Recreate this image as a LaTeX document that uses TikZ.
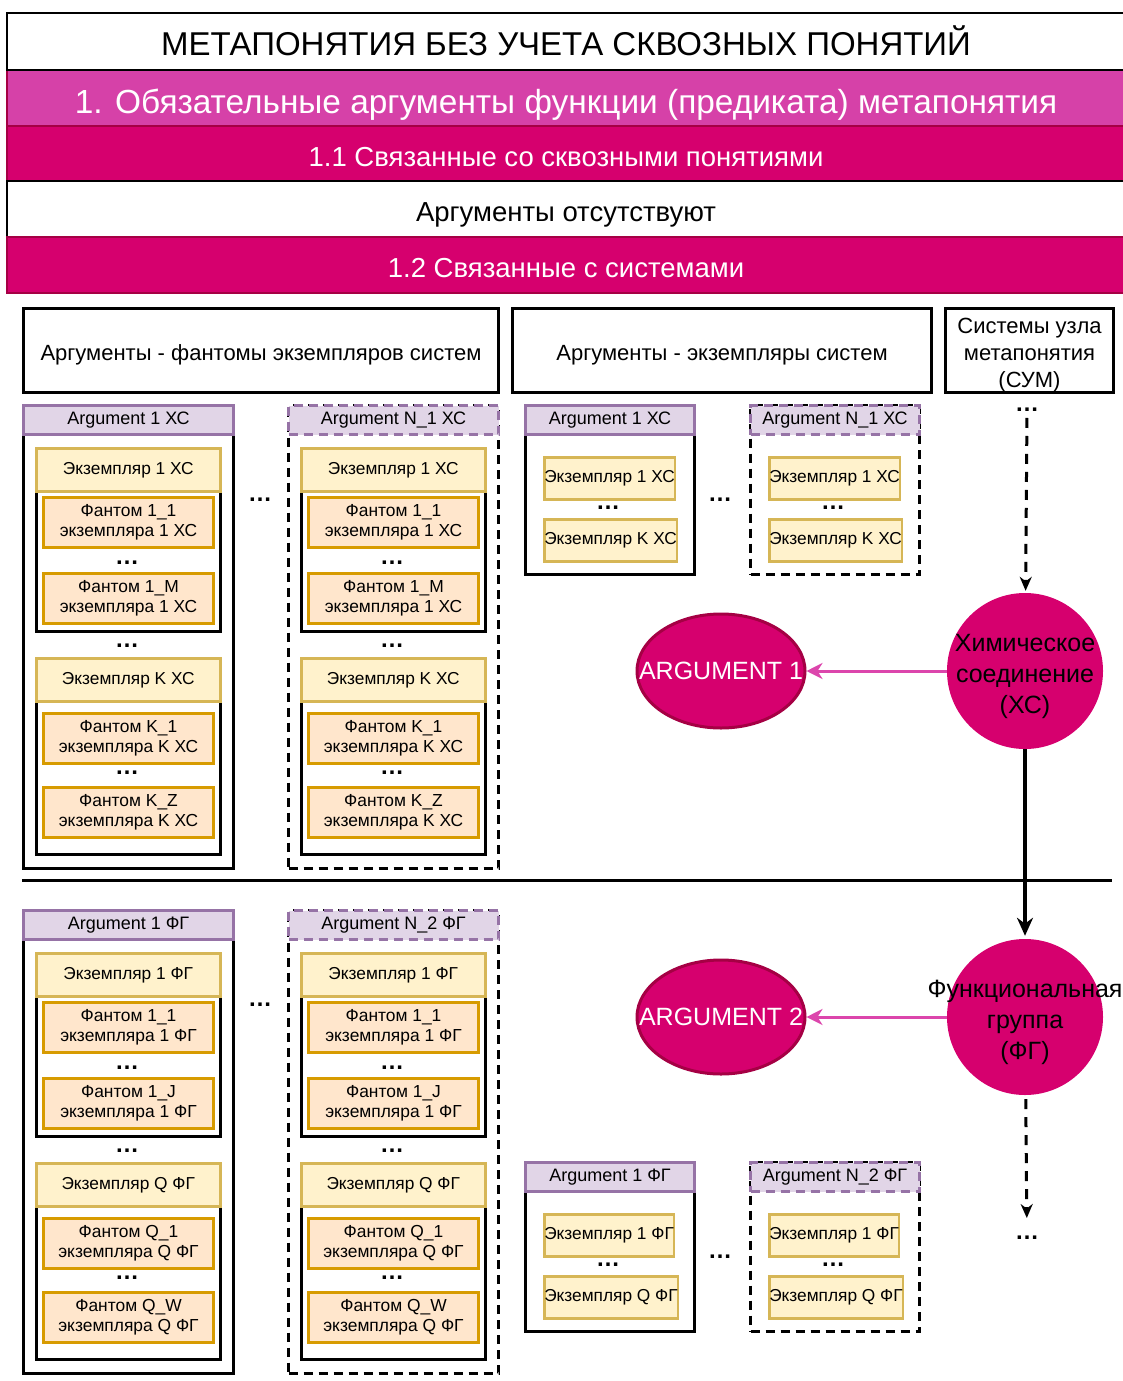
\documentclass[tikz,border=0pt]{standalone}
\usepackage{fontspec}
\setmainfont{Liberation Sans}
\usetikzlibrary{shapes.geometric, arrows.meta, positioning}

\definecolor{sysmag}{RGB}{214,0,110}
\definecolor{magedge}{RGB}{165,0,68}
\definecolor{bandpink}{RGB}{214,65,168}
\definecolor{arrowpink}{RGB}{220,70,172}
\definecolor{argfill}{RGB}{225,213,231}
\definecolor{argedge}{RGB}{150,115,166}
\definecolor{instfill}{RGB}{255,242,204}
\definecolor{instedge}{RGB}{214,182,86}
\definecolor{phfill}{RGB}{255,230,204}
\definecolor{phedge}{RGB}{215,155,0}

% text of fixed position, wider than its shape
\newcommand{\widelabel}[2][-12pt]{\makebox[0pt]{\raisebox{#1}[0pt][0pt]{\begin{tabular}{@{}c@{}}#2\end{tabular}}}}

\begin{document}
\begin{tikzpicture}[x=1pt, y=-1pt,
    band/.style={rectangle, draw=magedge, line width=2.5pt, fill=sysmag, text=white, minimum width=1118, minimum height=56, inner sep=0, outer sep=0, text height=25.8pt, text depth=0pt, font=\fontsize{27.5}{32}\selectfont},
    whitebar/.style={band, draw=black, fill=white, text=black},
    colhead/.style={rectangle, draw, line width=3pt, minimum height=84, anchor=north west, inner sep=0, font=\fontsize{22}{27}\selectfont},
    argbox/.style={rectangle, draw, line width=3pt, fill=white, anchor=north west},
    arghead/.style={rectangle, draw=argedge, line width=3pt, fill=argfill, minimum height=29, anchor=north west, inner sep=0, font=\fontsize{18}{20}\selectfont},
    instbox/.style={rectangle, draw, line width=2.5pt, minimum width=184, anchor=north west},
    insthead/.style={rectangle, draw=instedge, line width=2.5pt, fill=instfill, minimum width=184, minimum height=43, anchor=north west, inner sep=0, font=\fontsize{17.3}{20}\selectfont},
    phbox/.style={rectangle, draw=phedge, line width=3pt, fill=phfill, minimum width=170, minimum height=50, anchor=north west, align=center, inner sep=0, font=\fontsize{17.4}{20}\selectfont},
    sysinst/.style={insthead, minimum width=129, minimum height=42},
    dots/.style={inner sep=0, font=\bfseries\fontsize{24}{24}\selectfont},
    argell/.style={ellipse, draw=magedge, line width=3pt, fill=sysmag, text=white, minimum width=168, minimum height=114, inner sep=0, font=\fontsize{25}{30}\selectfont},
    sysnode/.style={circle, fill=sysmag, minimum size=156, inner sep=0, font=\fontsize{25}{31}\selectfont},
    linkarrow/.style={-{Stealth[length=16pt, width=16pt, inset=5pt]}, line width=3pt, draw=arrowpink},
    flowarrow/.style={-{Stealth[length=18pt, width=16pt]}, line width=4pt},
    dasharrow/.style={-{Stealth[length=14pt, width=12pt]}, line width=3pt, dash pattern=on 10pt off 8pt},
    solidline/.style={solid},
    dashline/.style={dash pattern=on 9pt off 6pt}
]
\useasboundingbox (0,0) rectangle (1123,1381);

% top bands
\node[band, fill=bandpink, text height=30pt, font=\fontsize{33.4}{38}\selectfont] (oblig) at (566,98) {1. Обязательные аргументы функции (предиката) метапонятия};
\node[band, below=0pt of oblig, minimum height=55] (cross) {1.1 Связанные со сквозными понятиями};
\node[whitebar, above=0pt of oblig, minimum height=57, text height=28.8pt, font=\fontsize{33}{38}\selectfont] (title) {МЕТАПОНЯТИЯ БЕЗ УЧЕТА СКВОЗНЫХ ПОНЯТИЙ};
\node[whitebar, below=0pt of cross] (absent) {Аргументы отсутствуют};
\node[band, below=0pt of absent] (systems) {1.2 Связанные с системами};

% column headers
\node[colhead, minimum width=475] (phhead) at (22,307) {\widelabel[-10pt]{Аргументы - фантомы экземпляров систем}};
\node[colhead, minimum width=419] (exhead) at (511,307) {\widelabel[-10pt]{Аргументы - экземпляры систем}};
\node[colhead, minimum width=168] (cymhead) at (944,307) {\widelabel[-10pt]{Системы узла\\метапонятия\\(СУМ)}};

\draw[line width=3pt] (22,880) -- (1112,880);

% phantom columns
\foreach \sect/\dy/\sys/\ik/\nn/\pha/\phb/\phc/\phd in
    {xs/0/ХС/K/1/1\_1/1\_M/K\_1/K\_Z, fg/505/ФГ/Q/2/1\_1/1\_J/Q\_1/Q\_W}{
  \foreach \col/\x/\an/\ls in {a/22/1/solidline, b/287/N\_\nn/dashline}{
    \node[argbox, \ls, minimum width=210, minimum height=463] (ph\sect\col) at (\x,404+\dy) {};
    \node[arghead, \ls, minimum width=210] (phh\sect\col) at (\x,404+\dy) {Argument \an\ \sys};
    \node[instbox, minimum height=183] (ia\sect\col) at (\x+13,447+\dy) {};
    \node[insthead] (iah\sect\col) at (\x+13,447+\dy) {Экземпляр 1 \sys};
    \node[phbox] (pa\sect\col) at (\x+20,496+\dy) {Фантом \pha\\экземпляра 1 \sys};
    \node[dots] (pad\sect\col) at (\x+105,563+\dy) {…};
    \node[phbox] (pb\sect\col) at (\x+20,572+\dy) {Фантом \phb\\экземпляра 1 \sys};
    \node[dots] (iad\sect\col) at (\x+105,646+\dy) {…};
    \node[instbox, minimum height=196] (ib\sect\col) at (\x+13,657+\dy) {};
    \node[insthead] (ibh\sect\col) at (\x+13,657+\dy) {Экземпляр \ik\ \sys};
    \node[phbox] (pc\sect\col) at (\x+20,712+\dy) {Фантом \phc\\экземпляра \ik\ \sys};
    \node[dots] (pcd\sect\col) at (\x+105,773+\dy) {…};
    \node[phbox] (pd\sect\col) at (\x+20,786+\dy) {Фантом \phd\\экземпляра \ik\ \sys};
  }
  \node[dots] (phgap\sect) at (260,500+\dy) {…};
}

% instance columns
\foreach \sect/\dy/\sys/\ik/\nn in {xs/0/ХС/K/1, fg/757/ФГ/Q/2}{
  \foreach \col/\x/\an/\ls in {a/524/1/solidline, b/749/N\_\nn/dashline}{
    \node[argbox, \ls, minimum width=169, minimum height=169] (ex\sect\col) at (\x,404+\dy) {};
    \node[arghead, \ls, minimum width=169] (exh\sect\col) at (\x,404+\dy) {Argument \an\ \sys};
    \node[sysinst] (exa\sect\col) at (\x+19,456+\dy) {Экземпляр 1 \sys};
    \node[dots] (exd\sect\col) at (\x+84,508+\dy) {…};
    \node[sysinst] (exb\sect\col) at (\x+19,518+\dy) {Экземпляр \ik\ \sys};
  }
  \node[dots] (exgap\sect) at (720,500+\dy) {…};
}

% systems and arguments
\node[argell] (arg1) at (721,671) {\makebox[0pt]{ARGUMENT 1}};
\node[sysnode] (chem) at (1025,671) {\widelabel{Химическое\\соединение\\(ХС)}};
\node[argell] (arg2) at (721,1017) {\makebox[0pt]{ARGUMENT 2}};
\node[sysnode] (func) at (1025,1017) {\widelabel{Функциональная\\группа\\(ФГ)}};
\node[dots] (cymdots) at (1027,410) {…};
\node[dots] (enddots) at (1027,1238) {…};

\draw[linkarrow] (chem) -- (arg1);
\draw[linkarrow] (func) -- (arg2);
\draw[dasharrow, shorten <=6pt, shorten >=2pt] (cymdots) -- (chem);
\draw[flowarrow, shorten >=3pt] (chem) -- (func);
\draw[dasharrow, shorten <=4pt, shorten >=18pt] (func) -- (enddots);

\end{tikzpicture}
\end{document}
